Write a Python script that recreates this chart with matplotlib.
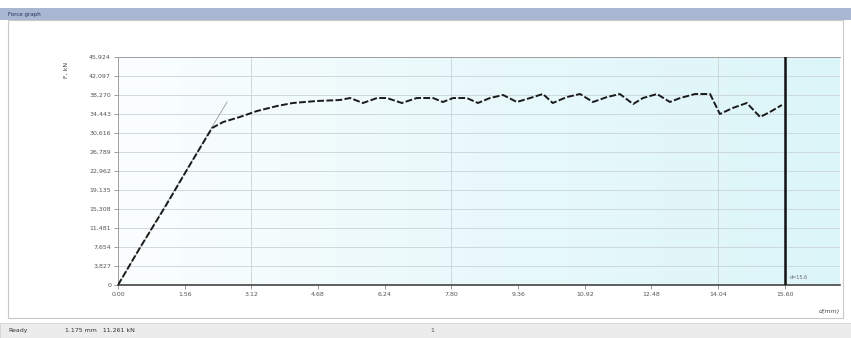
import numpy as np
import matplotlib
matplotlib.use("Agg")
import matplotlib.pyplot as plt
from matplotlib.patches import Rectangle

# Measured load curve: displacement (mm) vs force (kN)
disp = [0.00, 0.51, 1.10, 1.68, 2.03, 2.20, 2.46, 2.85, 3.25, 3.72, 4.09, 4.65,
        5.19, 5.43, 5.73, 6.06, 6.29, 6.64, 6.99, 7.37, 7.60, 7.84, 8.16, 8.42,
        8.70, 9.01, 9.33, 9.64, 9.94, 10.17, 10.50, 10.81, 11.11, 11.44, 11.74,
        12.05, 12.28, 12.61, 12.91, 13.15, 13.50, 13.85, 14.08, 14.38, 14.71,
        15.02, 15.25, 15.53]
force = [0, 7450, 15710, 24170, 29200, 31620, 32830, 33840, 35040, 36050, 36660,
         37060, 37260, 37660, 36660, 37660, 37660, 36660, 37660, 37660, 36860,
         37660, 37660, 36660, 37660, 38270, 36860, 37660, 38470, 36660, 37860,
         38470, 36860, 37860, 38470, 36450, 37660, 38470, 36860, 37660, 38470,
         38470, 34440, 35650, 36660, 33840, 34840, 36250]

# Elastic tangent
tan_x = [0.0, 2.55]
tan_y = [0, 36860]

# Axis ticks
y_ticks = [0, 3827, 7654, 11481, 15308, 19135, 22962, 26789, 30616, 34443,
           38270, 42097, 45924]
y_labels = ["0", "3,827", "7,654", "11,481", "15,308", "19,135", "22,962",
            "26,789", "30,616", "34,443", "38,270", "42,097", "45,924"]
x_ticks = [0.0, 1.56, 3.12, 4.68, 6.24, 7.80, 9.36, 10.92, 12.48, 14.04, 15.60]
x_labels = ["0.00", "1.56", "3.12", "4.68", "6.24", "7.80", "9.36", "10.92",
            "12.48", "14.04", "15.60"]
x_grid = [3.12, 7.80, 14.04]
cursor_x = 15.60

W, H = 851, 338
fig = plt.figure(figsize=(W / 100, H / 100), dpi=100)
fig.patch.set_facecolor("white")

# Window chrome: title bar, panel frame and status bar
fig.add_artist(Rectangle((0, 1 - 20 / H), 1, 12 / H, transform=fig.transFigure,
                         facecolor="#a9b7d3", edgecolor="none", zorder=0))
fig.text(8 / W, 1 - 14.5 / H, "Force graph", fontsize=4, color="#22305a",
         va="center", ha="left")
fig.add_artist(Rectangle((8 / W, 1 - 318 / H), 835 / W, 298 / H,
                         transform=fig.transFigure, facecolor="none",
                         edgecolor="#c8c8c8", linewidth=0.8, zorder=0))
fig.add_artist(Rectangle((0, 0), 1, 15 / H, transform=fig.transFigure,
                         facecolor="#ececec", edgecolor="#d0d0d0",
                         linewidth=0.6, zorder=0))
fig.text(8 / W, 7.5 / H, "Ready", fontsize=4.5, color="#333333", va="center")
fig.text(65 / W, 7.5 / H, "1.175 mm   11.261 kN", fontsize=4.5,
         color="#333333", va="center")
fig.text(430 / W, 7.5 / H, "1", fontsize=4.5, color="#555555", va="center")

ax = fig.add_axes([118 / W, 53 / H, 722 / W, 228 / H])
ax.set_xlim(0, 16.89)
ax.set_ylim(0, 45924)

# Light cyan gradient plot background
grad = np.linspace(0, 1, 256).reshape(1, -1)
cmap = matplotlib.colors.LinearSegmentedColormap.from_list(
    "bg", ["#fbfefe", "#e9f9fb", "#dcf5f9"])
ax.imshow(grad, extent=[0, 16.89, 0, 45924], aspect="auto", cmap=cmap,
          zorder=0, origin="lower")

for yv in y_ticks[1:]:
    ax.axhline(yv, color="#c9d3d6", linewidth=0.6, zorder=1)
for xv in x_grid:
    ax.axvline(xv, color="#c9d3d6", linewidth=0.6, zorder=1)

ax.plot(tan_x, tan_y, color="#9a9a9a", linewidth=0.6, zorder=2)
ax.plot(disp, force, color="#1a1a1a", linewidth=1.4, linestyle=(0, (3.5, 1.2)),
        zorder=3)

ax.axvline(cursor_x, color="#111111", linewidth=1.8, zorder=4)
ax.text(cursor_x + 0.12, 1300, "d=15.6", fontsize=3.5, color="#666666",
        zorder=5)

ax.set_xticks(x_ticks)
ax.set_xticklabels(x_labels, fontsize=4.5, color="#555555")
ax.set_yticks(y_ticks)
ax.set_yticklabels(y_labels, fontsize=4.5, color="#555555")
ax.tick_params(axis="both", length=3, width=0.6, color="#888888", pad=2)

for side in ["top", "left"]:
    ax.spines[side].set_color("#a0a0a0")
    ax.spines[side].set_linewidth(0.7)
ax.spines["right"].set_visible(False)
ax.spines["bottom"].set_color("#444444")
ax.spines["bottom"].set_linewidth(1.2)

fig.text(66 / W, 1 - 70 / H, "F, kN", fontsize=4.5, color="#444444",
         rotation=90, va="center", ha="center")
fig.text(840 / W, 1 - 312 / H, "d(mm)", fontsize=4.5, color="#444444",
         ha="right", va="center", style="italic")

fig.savefig("out.png", dpi=100)
